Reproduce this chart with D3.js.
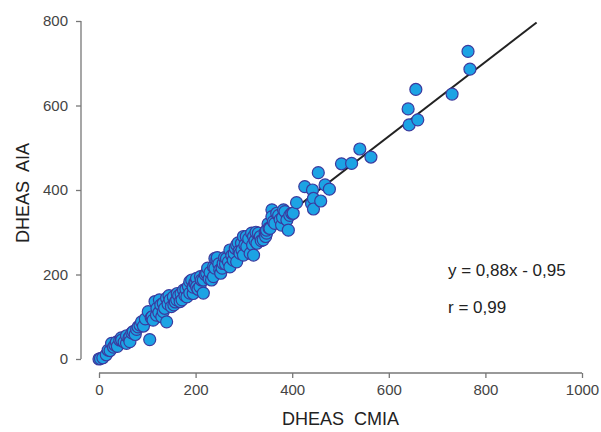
<!DOCTYPE html>
<html>
<head>
<meta charset="utf-8">
<script src="https://cdn.jsdelivr.net/npm/d3@7"></script>
<style>
  body { margin: 0; background: #fff; }
  text { font-family: "Liberation Sans", Arial, sans-serif; }
</style>
</head>
<body>
<svg id="chart" width="601" height="432"></svg>
<script>
// DHEAS CMIA (x) vs DHEAS AIA (y)
const cmia = [0,3,8,15,19,23,26,30,33,36,38,43,46,47,52,57,57,62,64,64,68,71,75,78,81,85,88,92,96,102,105,108,110,
  112,116,119,120,124,125,128,130,133,133,136,140,140,143,145,147,150,154,155,158,161,162,165,168,170,172,175,178,180,182,185,188,188,192,195,195,198,200,202,
  202,205,209,210,212,216,216,220,223,225,228,230,233,237,237,240,240,244,245,248,250,252,255,257,260,262,264,268,271,271,275,278,280,282,285,285,288,290,
  292,295,296,299,299,302,305,306,310,313,316,318,320,320,323,325,327,330,334,336,340,344,345,347,347,350,352,354,358,358,361,364,368,372,375,378,380,382,385,
  389,392,395,399,402,409,426,440,442,444,444,454,459,468,477,502,523,540,563,640,642,656,660,731,764,768];
const aia = [0,1,3,10,21,20,37,28,33,40,30,45,50,45,40,37,55,50,53,41,62,65,58,70,76,80,88,78,95,112,46,98,100,
  92,136,104,120,110,140,128,100,112,132,120,88,144,130,150,140,124,147,128,135,140,155,150,136,155,140,163,150,165,147,172,183,156,187,155,170,180,180,191,
  171,165,171,195,187,187,156,200,203,215,190,205,187,218,195,238,215,234,240,225,211,203,215,226,240,225,238,230,258,218,245,234,250,262,270,230,275,255,
  250,274,258,290,246,270,290,266,285,250,298,270,290,246,280,300,274,298,290,280,282,300,290,298,305,320,310,309,353,337,325,321,345,340,330,317,335,353,349,
  329,305,340,345,345,370,408,368,400,380,355,441,374,412,402,462,463,497,478,592,554,638,566,627,728,686];

// regression y = 0,88x - 0,95
const slope = 0.88, intercept = -0.95;
const fitX = [0, 906];

const xTicks = [0, 200, 400, 600, 800, 1000];
const yTicks = [0, 200, 400, 600, 800];

const svg = d3.select("#chart");
const x = d3.scaleLinear().domain([0, 1000]).range([99, 582]);
const y = d3.scaleLinear().domain([0, 800]).range([359, 21]);

// axes (detached, offset from the plot)
const xAxis = svg.append("g")
  .attr("transform", "translate(0,373)")
  .call(d3.axisBottom(x).tickValues(xTicks).tickSize(5).tickPadding(6).tickFormat(d3.format("d")));
const yAxis = svg.append("g")
  .attr("transform", "translate(81,0)")
  .call(d3.axisLeft(y).tickValues(yTicks).tickSize(5).tickPadding(8).tickFormat(d3.format("d")));

[xAxis, yAxis].forEach(a => {
  a.select(".domain").attr("stroke", "#777").attr("stroke-width", 1.3)
    .attr("d", a === xAxis ? "M" + x(0) + ",0H" + x(1000) : "M0," + y(800) + "V" + y(0));
  a.selectAll(".tick line").attr("stroke", "#777").attr("stroke-width", 1.3);
  a.selectAll(".tick text").attr("fill", "#444").style("font-size", "15px");
});

// regression line (under the points)
svg.append("path")
  .datum(fitX.map(v => [v, slope * v + intercept]))
  .attr("d", d3.line().x(d => x(d[0])).y(d => y(d[1])))
  .attr("stroke", "#222")
  .attr("stroke-width", 2)
  .attr("fill", "none");

// points
svg.append("g").selectAll("circle")
  .data(cmia.map((d, i) => [d, aia[i]]))
  .enter()
  .append("circle")
  .attr("cx", d => x(d[0]))
  .attr("cy", d => y(d[1]))
  .attr("r", 6)
  .attr("fill", "#1ca3e4")
  .attr("stroke", "#3b3a9e")
  .attr("stroke-width", 1.2);

// labels
svg.append("text").attr("x", x(500)).attr("y", 425)
  .attr("text-anchor", "middle").style("font-size", "18px").attr("fill", "#222")
  .attr("xml:space", "preserve").text("DHEAS  CMIA");
svg.append("text").attr("transform", "translate(29,193) rotate(-90)")
  .attr("text-anchor", "middle").style("font-size", "18px").attr("fill", "#222")
  .attr("xml:space", "preserve").text("DHEAS  AIA");

svg.append("text").attr("x", 448).attr("y", 276)
  .style("font-size", "17px").attr("fill", "#222").text("y = 0,88x - 0,95");
svg.append("text").attr("x", 448).attr("y", 313)
  .style("font-size", "17px").attr("fill", "#222").text("r = 0,99");
</script>
</body>
</html>
